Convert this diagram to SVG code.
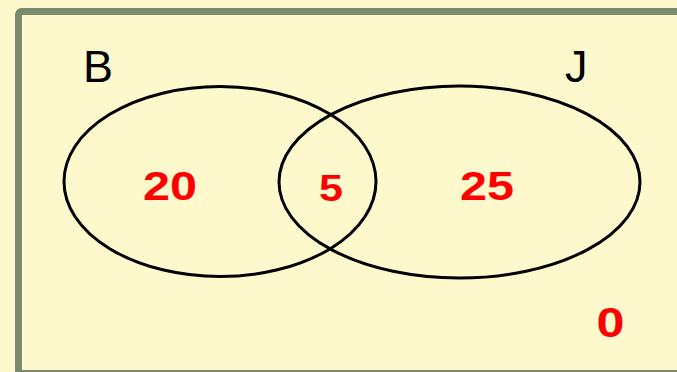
<svg xmlns="http://www.w3.org/2000/svg" width="677" height="372" viewBox="0 0 677 372">
<style>
.set{fill:none;stroke:#000;stroke-width:3}
.lbl{font-family:"Liberation Sans",Arial,sans-serif;font-size:45px;fill:#000}
.num{font-family:"Liberation Sans",Arial,sans-serif;font-weight:bold;fill:#ff0000;text-anchor:middle}
</style>
<rect x="0" y="0" width="677" height="372" fill="#fdf9cd"/>
<g id="universe">
<rect x="18.5" y="11.5" width="670" height="362" rx="3" fill="#fdf9cd" stroke="#7b8a6e" stroke-width="7"/>
<text class="num" x="610.5" y="337" font-size="42" textLength="28" lengthAdjust="spacingAndGlyphs">0</text>
</g>
<g id="setB">
<ellipse class="set" cx="220" cy="181.5" rx="156" ry="95"/>
<text class="lbl" x="83" y="82">B</text>
<text class="num" x="170" y="200" font-size="41" textLength="54" lengthAdjust="spacingAndGlyphs">20</text>
</g>
<g id="setJ">
<ellipse class="set" cx="459.5" cy="182" rx="180.5" ry="96"/>
<text class="lbl" x="565" y="82">J</text>
<text class="num" x="487" y="200" font-size="41" textLength="54" lengthAdjust="spacingAndGlyphs">25</text>
</g>
<g id="intersection">
<text class="num" x="331" y="201" font-size="36" textLength="24" lengthAdjust="spacingAndGlyphs">5</text>
</g>
<g id="connectors"/>
</svg>
